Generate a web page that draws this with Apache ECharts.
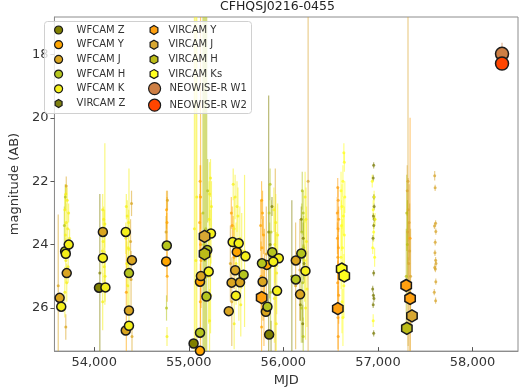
<!DOCTYPE html>
<html>
<head>
<meta charset="utf-8">
<script src="https://cdn.jsdelivr.net/npm/echarts@6/dist/echarts.min.js"></script>
<style>
  html, body { margin: 0; padding: 0; background: #fff; }
  #chart { width: 520px; height: 392px; }
</style>
</head>
<body>
<div id="chart"></div>
<script>
// ticks
var x_ticks = [54000, 55000, 56000, 57000, 58000];
var y_ticks = [18, 20, 22, 24, 26];

// individual epochs: [mjd, mag, err]
var wfcamZ_dots = [[54060,24.9,2.5],[55845,23.6,4.3],[56090,25.0,2.4],[56210,23.8,0.5],[56190,23.2,0.4],
  [56220,24.6,0.6],[56180,25.9,0.5],[56205,26.5,0.6],[55880,22.8,0.3],[55860,24.0,0.4],[55870,26.9,0.5]];
var wfcamY_dots = [[54765,22.9,0.6],[54770,23.3,0.8],[54768,24.0,1.0],[54772,25.0,0.8],
  [55120,22.0,0.5],[55125,22.5,1.0],[55115,23.3,0.9],[55130,24.5,1.5],[55122,25.8,1.2],[55125,24.0,9],
  [55450,23.0,0.5],[55460,23.4,0.6],[55470,23.9,0.8],[55480,24.4,1.0],
  [55770,22.6,0.6],[55780,23.0,0.7],[55760,23.4,0.8],[55790,23.7,0.6],[55775,24.1,0.9],[55800,24.5,1.0],
  [55765,25.0,1.1],[55785,25.5,0.9],[55795,26.0,1.2],[55770,26.6,0.8],[54340,25.5,2.0]];
var wfcamJ_dots = [[53620,25.3,2.25],[53705,22.15,0.3],[53700,26.6,0.4],[54395,22.7,0.4],[54385,23.9,0.7],
  [54390,25.1,0.9],[54400,26.9,0.5],[54775,22.6,0.3],[54760,23.6,0.5],[55915,24.6,3.0],[55820,24.3,1.5],
  [55440,24.6,1.2],[55455,25.8,1.4],[56130,25.3,2.0],[56175,24.8,1.6]];
var wfcamH_dots = [[55150,23.0,10],[55160,24.0,10],[55170,24.5,10],[55180,23.5,10],[55190,25.0,10],
  [53695,22.5,0.4],[53685,23.4,0.6],[56200,22.3,0.6],[56210,23.0,0.7],[56195,23.6,0.9],[56215,24.1,1.0],
  [56205,25.2,1.2],[56190,26.0,1.1],[56210,26.9,0.6],[55860,22.1,0.5],[55850,23.0,0.9],[55870,23.6,1.0],
  [55855,24.5,1.2],[55865,25.5,1.3],[54765,26.0,0.4],[55200,22.3,1.0]];
var wfcamK_dots = [[53700,22.4,0.3],[53715,22.6,0.4],[53690,22.9,0.5],[53730,23.0,0.3],[53705,23.3,0.6],
  [53720,23.5,0.5],[53695,23.7,0.4],[53740,23.8,0.3],[53700,24.5,0.7],[53725,24.7,0.5],[53710,25.2,0.6],
  [53690,25.5,0.8],[54113,23.35,2.55],[54090,22.9,0.5],[54100,23.2,0.4],[54110,23.5,0.6],[54095,23.9,0.5],
  [54085,24.2,0.7],[54105,24.7,0.6],[54115,25.0,0.8],[54090,25.8,0.9],[54368,24.15,2.55],[54340,22.8,0.4],
  [54350,23.1,0.5],[54365,23.3,0.4],[54335,23.8,0.5],[54360,24.1,0.6],[54345,24.6,0.7],[54355,25.3,0.8],
  [54770,26.9,0.3],[55060,23.5,9],[55075,24.5,9],[55085,22.5,9],[55230,21.9,0.6],[55220,22.4,1.0],
  [55240,22.8,0.8],[55215,23.2,1.2],[55235,23.6,1.0],[55225,24.3,1.4],[55210,25.0,1.5],[55230,25.6,1.2],
  [55220,26.4,1.0],[55590,24.2,2.4],[55470,22.1,0.5],[55490,22.5,0.7],[55510,22.8,0.8],[55520,23.1,0.9],
  [55480,23.5,1.0],[55540,23.8,1.0],[55560,24.2,1.2],[55500,24.6,1.3],[55530,25.2,1.2],[55550,25.9,1.0],
  [55480,26.5,0.8],[55900,22.9,0.7],[55920,23.3,0.9],[55940,23.7,1.0],[55910,24.0,1.2],[55930,24.9,1.3],
  [55905,25.7,1.4],[55925,26.5,1.0],[56230,22.5,0.8],[56240,23.2,1.0],[56245,23.9,1.1],[56225,24.5,1.3],
  [56250,25.4,1.2],[56235,26.0,1.0]];
var vircamZ_dots = [[56955,21.5,0.1],[56950,21.9,0.1],[56958,22.5,0.1],[56960,22.8,0.1],[56952,23.1,0.1],
  [56962,23.2,0.1],[56956,23.4,0.1],[56948,23.8,0.1],[56955,24.9,0.1],[56945,25.4,0.1],[56952,25.6,0.1],
  [56958,25.7,0.1],[56950,25.9,0.1],[56955,26.8,0.1]];
var vircamY_dots = [[56575,22.2,0.3],[56580,22.6,0.4],[56570,23.0,0.5],[56585,23.2,0.4],[56578,23.5,0.6],
  [56572,23.8,0.5],[56582,24.1,0.6],[56576,24.4,0.7],[56580,24.8,0.8],[56574,25.2,0.7],[56585,25.6,0.9],
  [56578,26.3,1.0],[56580,26.9,0.6],[57340,23.8,3.8]];
var vircamJ_dots = [[56262,22.0,6],[57318,22.0,6],[57310,22.3,0.8],[57320,22.9,1.0],[57330,23.3,1.2],
  [57315,23.6,1.0],[57335,24.2,1.5],[57325,24.6,1.3],[57345,25.0,1.5],[57320,25.8,1.4],[57340,26.5,1.0],
  [57600,21.83,0.15],[57605,22.21,0.1],[57610,23.33,0.1],[57598,23.41,0.1],[57612,23.59,0.1],[57606,23.93,0.1],
  [57603,24.26,0.1],[57610,24.49,0.1],[57614,24.6,0.1],[57600,24.72,0.1],[57608,24.77,0.1],[57612,25.17,0.1],
  [57596,25.5,0.1],[57610,25.77,0.1]];
var vircamH_dots = [[57305,23.0,1.2],[57312,24.0,1.4],[57300,25.0,1.5]];
var vircamKs_dots = [[56640,21.1,0.3],[56645,21.4,0.3],[56630,22.0,0.5],[56610,22.3,0.6],[56650,22.5,0.5],
  [56620,22.8,0.7],[56635,23.1,0.6],[56615,23.4,0.8],[56645,23.7,0.9],[56625,24.1,0.9],[56610,24.4,1.0],
  [56640,25.3,1.0],[56620,25.8,1.0],[56630,26.3,0.9],[56940,22.0,0.2],[56960,22.5,0.2],[56950,22.9,0.3],
  [56970,23.2,0.2],[56955,23.6,0.3],[56945,24.1,0.2],[56965,24.4,0.3],[56950,26.4,0.2]];
var neoW1_dots = [[58312,17.98,0.35]];
var neoW2_dots = [[58312,18.29,0.1]];

// binned magnitudes: [mjd, mag]
var wfcamZ_bins = [[54051,25.36],[55051,27.12],[55850,26.84]];
var wfcamY_bins = [[54761,24.53],[55119,25.17],[55119,27.35],[55508,24.23],[55825,24.64]];
var wfcamJ_bins = [[53710,24.9],[53635,25.68],[54092,23.6],[54399,24.49],[54368,26.08],[54334,26.71],
  [55129,24.99],[55491,24.81],[55453,25.2],[55542,25.19],[55423,26.1],[55781,25.17],[55815,26.12],
  [56132,24.5],[56177,25.57]];
var wfcamH_bins = [[53693,24.21],[54368,24.9],[54768,24.03],[55187,25.64],[55119,26.78],[55196,24.17],
  [55883,24.24],[55774,24.59],[55832,25.96],[56190,24.28],[56132,25.1],[55580,24.95]];
var wfcamK_bins = [[53731,24.0],[53700,24.29],[53652,25.96],[54092,24.42],[54119,25.35],[54334,23.6],
  [54368,26.56],[55235,23.65],[55211,24.85],[55464,23.92],[55528,23.96],[55600,24.37],[55498,25.61],
  [55952,24.43],[55894,24.54],[55934,25.46],[56234,24.83]];
var vircamZ_bins = [];
var vircamY_bins = [[55771,25.67],[56576,26.02],[57299,25.29],[57340,25.7]];
var vircamJ_bins = [[55167,23.74],[57360,26.25]];
var vircamH_bins = [[55167,24.29],[57306,26.64]];
var vircamKs_bins = [[56617,24.77],[56644,24.99]];
var neoW1_bins = [[58312,17.98]];
var neoW2_bins = [[58312,18.29]];

var hex = 'path://M0,-10L8.66,-5L8.66,5L0,10L-8.66,5L-8.66,-5Z';

var bands = [
  {name: 'WFCAM Z', color: '#808000', sym: 'circle', size: 9, dots: wfcamZ_dots, bins: wfcamZ_bins},
  {name: 'WFCAM Y', color: '#ffa500', sym: 'circle', size: 9, dots: wfcamY_dots, bins: wfcamY_bins},
  {name: 'WFCAM J', color: '#daa520', sym: 'circle', size: 9, dots: wfcamJ_dots, bins: wfcamJ_bins},
  {name: 'WFCAM H', color: '#b5c51e', sym: 'circle', size: 9, dots: wfcamH_dots, bins: wfcamH_bins},
  {name: 'WFCAM K', color: '#f5f01a', sym: 'circle', size: 9, dots: wfcamK_dots, bins: wfcamK_bins},
  {name: 'VIRCAM Z', color: '#7f8010', sym: hex, size: 12, dots: vircamZ_dots, bins: vircamZ_bins},
  {name: 'VIRCAM Y', color: '#ffa010', sym: hex, size: 12, dots: vircamY_dots, bins: vircamY_bins},
  {name: 'VIRCAM J', color: '#d8a833', sym: hex, size: 12, dots: vircamJ_dots, bins: vircamJ_bins},
  {name: 'VIRCAM H', color: '#bcbc18', sym: hex, size: 12, dots: vircamH_dots, bins: vircamH_bins},
  {name: 'VIRCAM Ks', color: '#ffff20', sym: hex, size: 12, dots: vircamKs_dots, bins: vircamKs_bins},
  {name: 'NEOWISE-R W1', color: '#cd7f45', sym: 'circle', size: 13, dots: neoW1_dots, bins: neoW1_bins},
  {name: 'NEOWISE-R W2', color: '#ff4500', sym: 'circle', size: 13, dots: neoW2_dots, bins: neoW2_bins}
];

var series = [];
bands.forEach(function(b){
  series.push({
    name: b.name, type: 'custom', clip: true, z: 1, silent: true,
    encode: {x: 0, y: 1},
    data: b.dots,
    renderItem: function(params, api){
      var x = api.value(0), m = api.value(1), e = api.value(2);
      var p1 = api.coord([x, m - e]), p2 = api.coord([x, m + e]);
      return {type: 'line', shape: {x1: p1[0], y1: p1[1], x2: p2[0], y2: p2[1]},
        style: {stroke: b.color, lineWidth: 1.2, opacity: 0.55}};
    }
  });
  series.push({
    name: b.name, type: 'scatter', z: 2, silent: true,
    symbol: 'circle', symbolSize: 3,
    itemStyle: {color: b.color, opacity: 0.75},
    data: b.dots.map(function(d){ return [d[0], d[1]]; })
  });
  series.push({
    name: b.name, type: 'scatter', z: 3, silent: true,
    symbol: b.sym, symbolSize: b.size, symbolKeepAspect: true,
    itemStyle: {color: b.color, borderColor: '#1a1a1a', borderWidth: 1.5, opacity: 1},
    data: b.bins
  });
});

function legend_items(list){
  return list.map(function(b){
    return {name: b.name, icon: b.sym, itemStyle: {color: b.color, borderColor: '#1a1a1a', borderWidth: 1.2}};
  });
}

var legend_base = {
  orient: 'vertical', z: 60, padding: 0, itemGap: 2.7, selectedMode: false,
  textStyle: {fontFamily: 'DejaVu Sans', fontSize: 10, color: '#333', lineHeight: 12}
};

var option = {
  animation: false,
  title: {
    text: 'CFHQSJ0216-0455', left: 277.5, top: 0, textAlign: 'center', padding: 0,
    textStyle: {fontFamily: 'DejaVu Sans', fontSize: 12.5, fontWeight: 'normal', color: '#222'}
  },
  legend: [
    Object.assign({}, legend_base, {left: 54, top: 24, itemWidth: 8, itemHeight: 8,
      textStyle: Object.assign({}, legend_base.textStyle, {padding: [0, 0, 0, 9]}),
      data: legend_items(bands.slice(0, 6))}),
    Object.assign({}, legend_base, {left: 149.5, top: 24, itemWidth: 9, itemHeight: 9,
      textStyle: Object.assign({}, legend_base.textStyle, {padding: [0, 0, 0, 5]}),
      data: legend_items(bands.slice(6, 10))}),
    Object.assign({}, legend_base, {left: 148, top: 82, itemWidth: 12, itemHeight: 12, itemGap: 3.4,
      textStyle: Object.assign({}, legend_base.textStyle, {padding: [0, 0, 0, 4]}),
      data: legend_items(bands.slice(10))})
  ],
  graphic: {elements: [{
    type: 'rect', z: 50, silent: true,
    shape: {x: 44.5, y: 21.5, width: 207, height: 92, r: 3},
    style: {fill: 'rgba(255,255,255,0.8)', stroke: '#d0d0d0', lineWidth: 1}
  }]},
  grid: {left: 40, right: 2, top: 17, bottom: 35, show: true, borderColor: '#8c8c8c', borderWidth: 1},
  xAxis: {
    type: 'value', min: 53580, max: 58481,
    name: 'MJD', nameLocation: 'middle', nameGap: 19,
    nameTextStyle: {fontFamily: 'DejaVu Sans', fontSize: 13, color: '#333'},
    axisLine: {lineStyle: {color: '#8c8c8c'}},
    axisTick: {inside: true, length: 4, customValues: x_ticks, lineStyle: {color: '#555'}},
    axisLabel: {customValues: x_ticks, margin: 5, fontFamily: 'DejaVu Sans', fontSize: 13, color: '#333'},
    splitLine: {show: false}
  },
  yAxis: {
    type: 'value', inverse: true, min: 16.82, max: 27.36,
    name: 'magnitude (AB)', nameLocation: 'middle', nameGap: 28,
    nameTextStyle: {fontFamily: 'DejaVu Sans', fontSize: 13, color: '#333'},
    axisLine: {lineStyle: {color: '#8c8c8c'}},
    axisTick: {inside: false, length: 4, customValues: y_ticks, lineStyle: {color: '#555'}},
    axisLabel: {customValues: y_ticks, margin: 6, fontFamily: 'DejaVu Sans', fontSize: 13, color: '#333'},
    splitLine: {show: false}
  },
  series: series
};

var chart_div = echarts.init(document.getElementById('chart'));
chart_div.setOption(option);
</script>
</body>
</html>
